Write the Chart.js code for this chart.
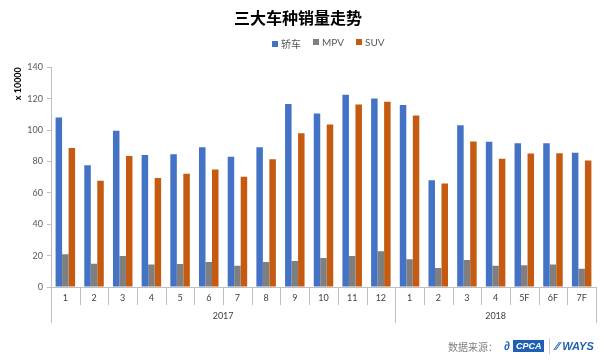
<!DOCTYPE html>
<html>
<head>
<meta charset="UTF-8">
<title>三大车种销量走势</title>
<script src="https://cdn.jsdelivr.net/npm/chart.js"></script>
<style>
    body { margin: 0; background: #fff; font-family: Lato, "Noto Sans CJK SC", sans-serif; }
    #wrap { position: relative; width: 605px; height: 361px; }
    /* legend sits between title and plot */
    #legend { position: absolute; left: 272px; top: 36px; display: flex; gap: 12px; font-size: 10px; color: #595959; }
    #legend span.box { display: inline-block; width: 6px; height: 6px; margin-right: 3px; vertical-align: 1px; }
    #source { position: absolute; left: 448px; top: 338px; display: flex; align-items: center; font-size: 10px; color: #808080; font-family: "Noto Sans CJK SC", sans-serif; }
    .cpca { background: #1f5fb4; color: #fff; font: italic bold 9px "Liberation Sans", sans-serif; padding: 1px 3px; margin-left: 3px; }
    .swirl { color: #1f5fb4; font: italic bold 12px "Liberation Sans", sans-serif; margin-left: 6px; }
    .sep { width: 1px; height: 16px; background: #ccc; margin: 0 5px; }
    .ways { color: #1f5fb4; font: italic bold 11px "Liberation Sans", sans-serif; }
</style>
</head>
<body>
<div id="wrap">
    <canvas id="salesChart" width="605" height="361"></canvas>
    <div id="legend"></div>
    <div id="source">数据来源：<span class="swirl">∂</span><span class="cpca">CPCA</span><span class="sep"></span><span class="ways">⁄⁄ WAYS</span></div>
</div>

<script>
    // month labels (2017: 1-12, 2018: 1-7F)
    const months = ['1','2','3','4','5','6','7','8','9','10','11','12','1','2','3','4','5F','6F','7F'];
    const years = ['2017', '2018'];
    const yearSizes = [12, 7];

    // sales in units of 10000
    const sedan = [108, 77.5, 99.5, 84, 84.5, 89, 83, 89, 116.5, 110.5, 122.5, 120, 116, 68, 103, 92.5, 91.5, 91.5, 85.5];
    const mpv = [20.8, 14.8, 19.8, 14.4, 14.6, 15.9, 13.6, 15.9, 16.5, 18.5, 19.7, 22.8, 17.6, 12.1, 17.2, 13.6, 13.8, 14.4, 11.7];
    const suv = [88.5, 67.7, 83.5, 69.4, 72.1, 74.9, 70.2, 81.3, 98, 103.5, 116.3, 118, 109.3, 66, 92.7, 81.7, 85, 85.2, 80.6];

    const seriesNames = ['轿车', 'MPV', 'SUV'];
    const colors = ['#4472C4', '#7F7F7F', '#C55A11'];

    // build html legend
    const legendEl = document.getElementById('legend');
    seriesNames.forEach((name, i) => {
        const item = document.createElement('div');
        item.innerHTML = '<span class="box" style="background:' + colors[i] + '"></span>' + name;
        legendEl.appendChild(item);
    });

    // draws the category separators and the year row under the month labels
    const yearRowPlugin = {
        id: 'yearRow',
        afterDraw(chart) {
            const xs = chart.scales.x;
            const ctx = chart.ctx;
            const step = xs.width / months.length;
            const top = xs.top;
            ctx.save();
            ctx.strokeStyle = '#BFBFBF';
            ctx.lineWidth = 1;
            const bigIdx = [0];
            let acc = 0;
            yearSizes.forEach(n => { acc += n; bigIdx.push(acc); });
            for (let i = 0; i <= months.length; i++) {
                const x = Math.round(xs.left + i * step) + 0.5;
                const bottom = bigIdx.includes(i) ? top + 36 : top + 18;
                ctx.beginPath();
                ctx.moveTo(x, top);
                ctx.lineTo(x, bottom);
                ctx.stroke();
            }
            ctx.fillStyle = '#404040';
            ctx.font = '9px Lato, "Noto Sans CJK SC", sans-serif';
            ctx.textAlign = 'center';
            ctx.textBaseline = 'middle';
            let start = 0;
            years.forEach((y, k) => {
                const a = xs.getPixelForValue(start);
                const b = xs.getPixelForValue(start + yearSizes[k] - 1);
                ctx.fillText(y, (a + b) / 2, top + 29);
                start += yearSizes[k];
            });
            ctx.restore();
        }
    };

    const ctx = document.getElementById('salesChart').getContext('2d');
    const salesChart = new Chart(ctx, {
        type: 'bar',
        data: {
            labels: months,
            datasets: [
                { label: seriesNames[0], data: sedan, backgroundColor: colors[0] },
                { label: seriesNames[1], data: mpv, backgroundColor: colors[1] },
                { label: seriesNames[2], data: suv, backgroundColor: colors[2] }
            ]
        },
        options: {
            responsive: false,
            animation: false,
            categoryPercentage: 0.68,
            barPercentage: 1.0,
            layout: { padding: { left: 0, right: 9, top: 0, bottom: 0 } },
            plugins: {
                legend: { display: false },
                tooltip: { enabled: false },
                title: {
                    display: true,
                    text: '三大车种销量走势',
                    color: '#000',
                    font: { size: 16, weight: 'bold', family: '"Noto Sans CJK SC", sans-serif' },
                    padding: { top: 8, bottom: 40 }
                }
            },
            scales: {
                x: {
                    grid: { display: true, drawOnChartArea: false, drawTicks: false },
                    border: { display: true, color: '#BFBFBF' },
                    ticks: { color: '#404040', font: { size: 9, family: 'Lato' }, padding: 6, maxRotation: 0, autoSkip: false },
                    afterFit(scale) { scale.height = 74; }
                },
                y: {
                    min: 0,
                    max: 140,
                    ticks: { stepSize: 20, color: '#595959', font: { size: 9, family: 'Lato' }, padding: 4 },
                    grid: { display: true, drawOnChartArea: false, drawTicks: true, tickLength: 4, color: '#BFBFBF' },
                    border: { display: true, color: '#BFBFBF' },
                    title: {
                        display: true,
                        text: 'x 10000',
                        align: 'end',
                        color: '#000',
                        font: { size: 9, weight: 'bold', family: 'Lato' },
                        padding: { top: 13, bottom: 0 }
                    },
                    afterFit(scale) { scale.width = 51; }
                }
            }
        },
        plugins: [yearRowPlugin]
    });
</script>
</body>
</html>
